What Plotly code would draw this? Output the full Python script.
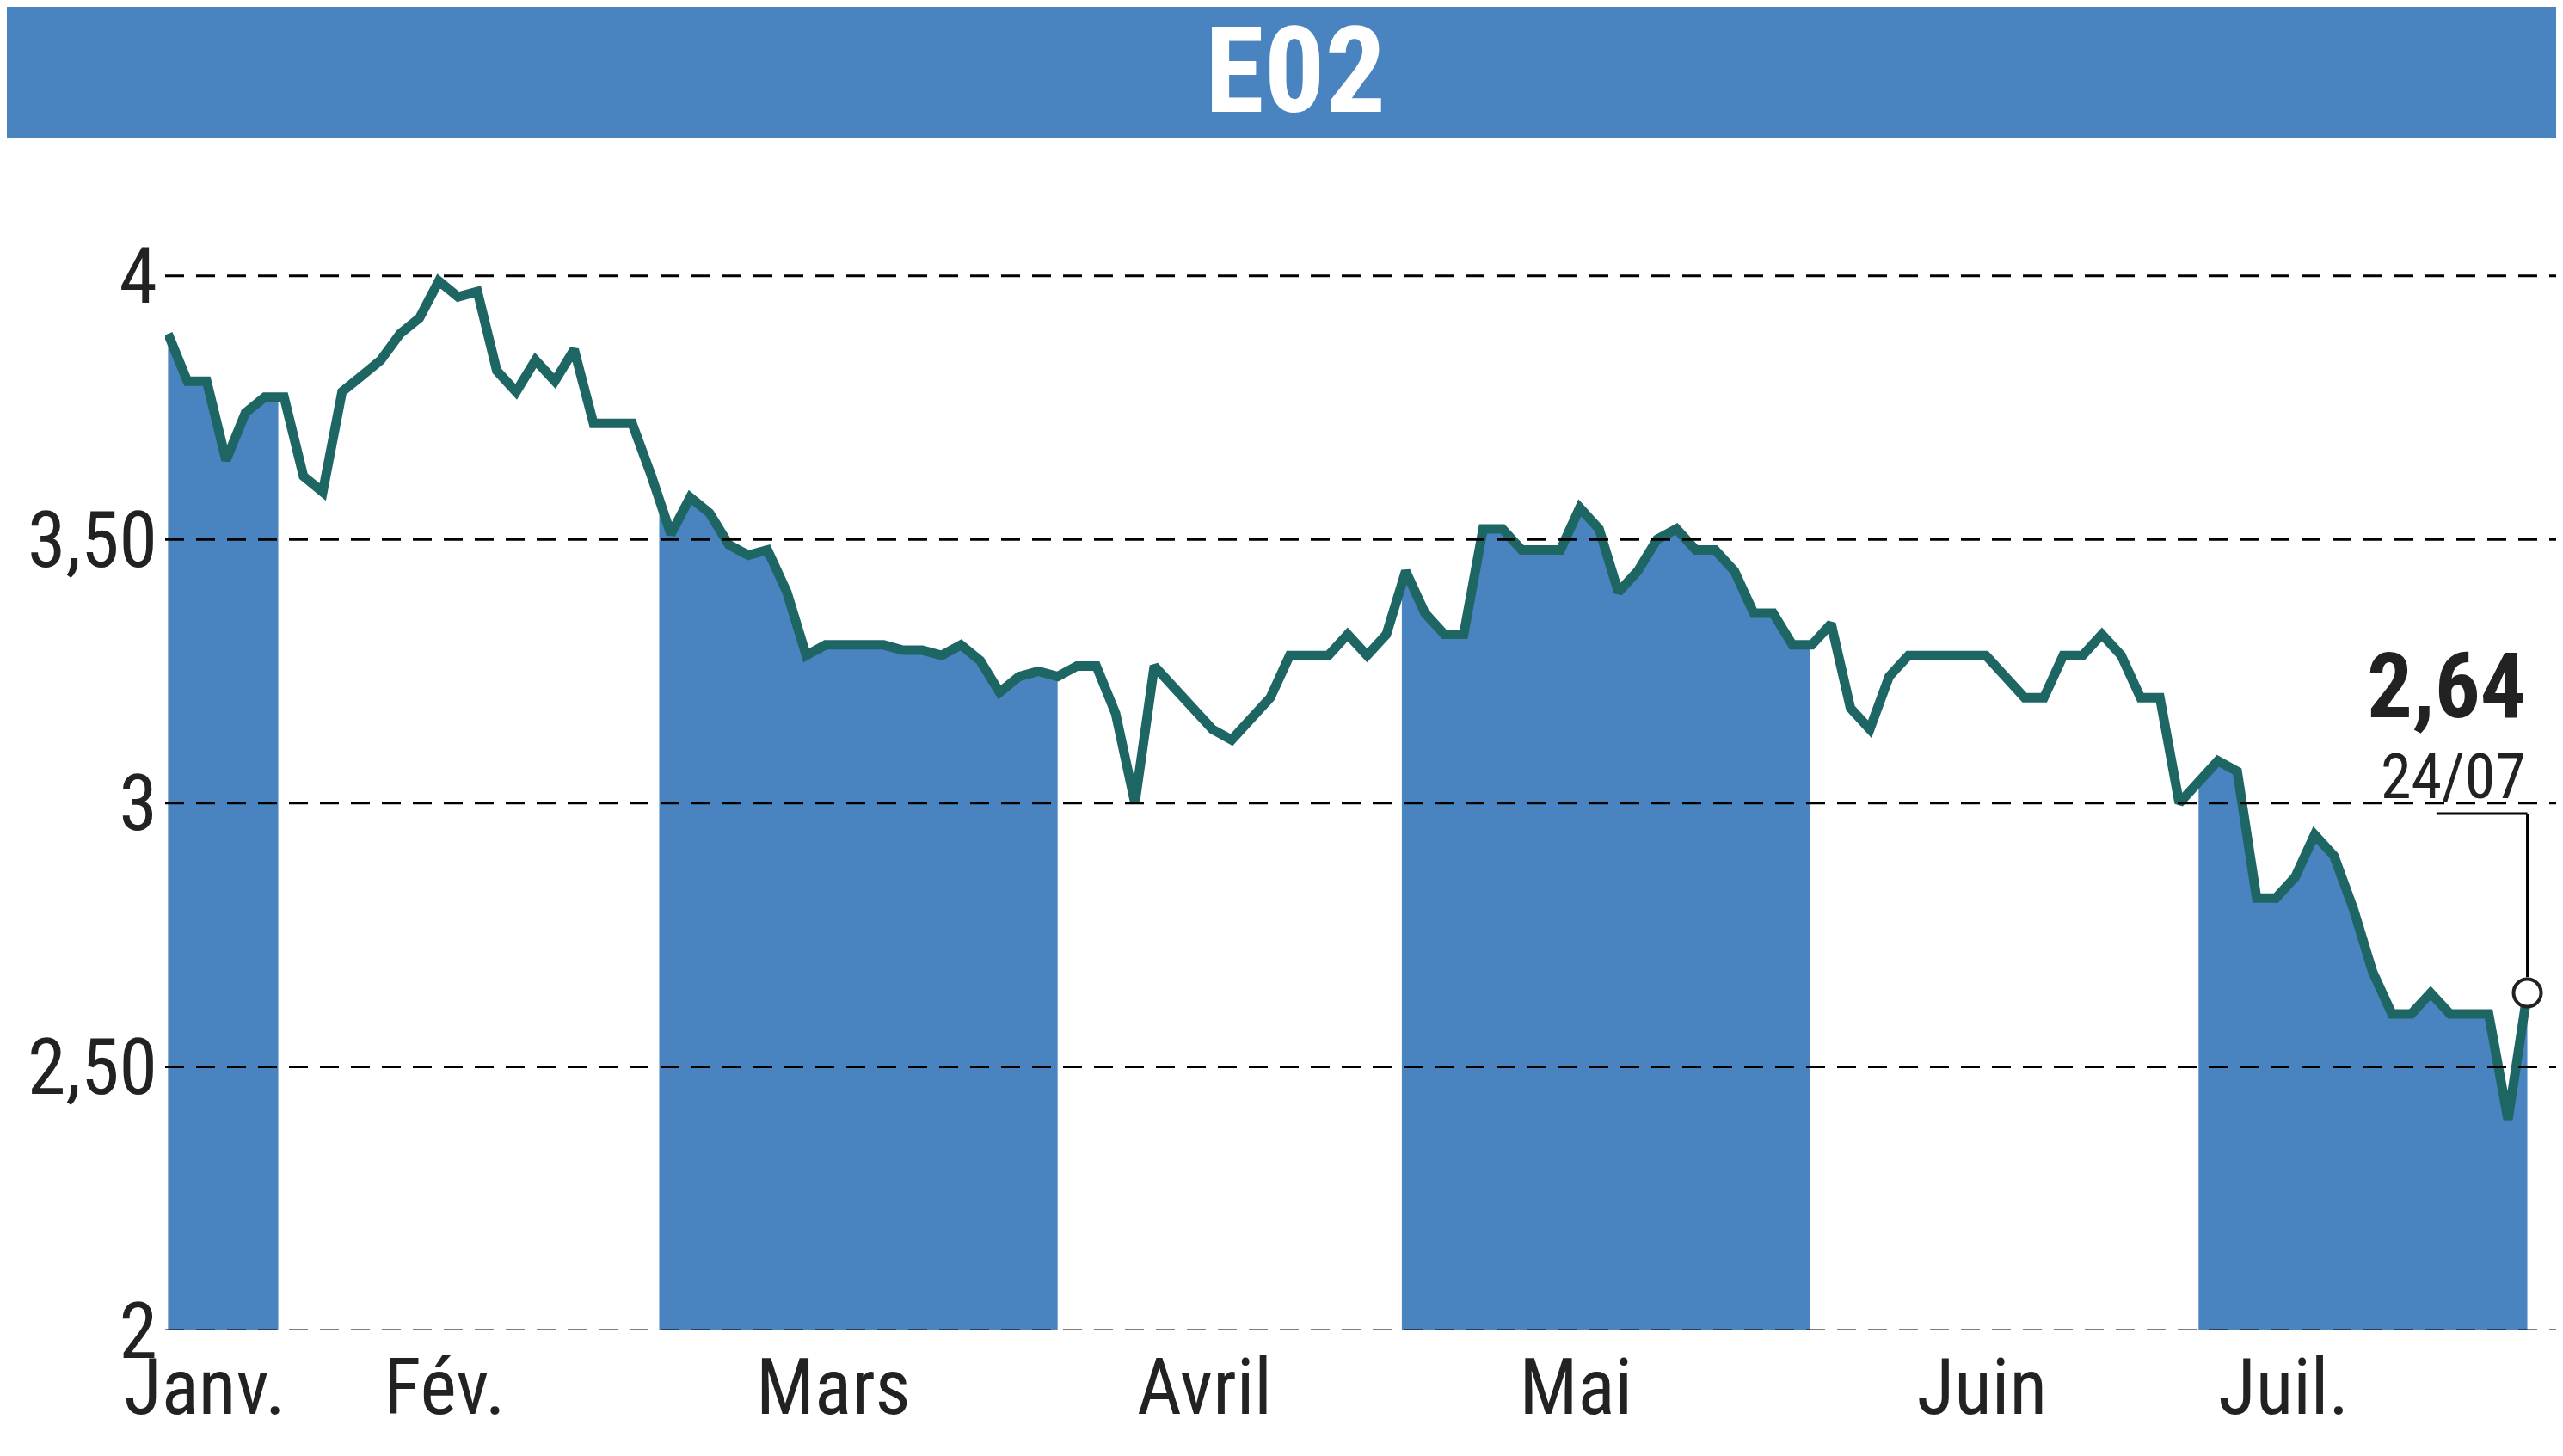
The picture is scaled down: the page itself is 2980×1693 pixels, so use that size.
import numpy as np
import plotly.graph_objects as go

title = "E02"
prices = [
  3.89, 3.80, 3.80, 3.65, 3.74, 3.77, 3.77, 3.62, 3.59, 3.78, 3.81, 3.84, 3.89, 3.92,
  3.99, 3.96, 3.97, 3.82, 3.78, 3.84, 3.80, 3.86, 3.72, 3.72, 3.72, 3.62, 3.51, 3.58,
  3.55, 3.49, 3.47, 3.48, 3.40, 3.28, 3.30, 3.30, 3.30, 3.30, 3.29, 3.29, 3.28, 3.30,
  3.27, 3.21, 3.24, 3.25, 3.24, 3.26, 3.26, 3.17, 3.00, 3.26, 3.22, 3.18, 3.14, 3.12,
  3.16, 3.20, 3.28, 3.28, 3.28, 3.32, 3.28, 3.32, 3.44, 3.36, 3.32, 3.32, 3.52, 3.52,
  3.48, 3.48, 3.48, 3.56, 3.52, 3.40, 3.44, 3.50, 3.52, 3.48, 3.48, 3.44, 3.36, 3.36,
  3.30, 3.30, 3.34, 3.18, 3.14, 3.24, 3.28, 3.28, 3.28, 3.28, 3.28, 3.24, 3.20, 3.20,
  3.28, 3.28, 3.32, 3.28, 3.20, 3.20, 3.00, 3.04, 3.08, 3.06, 2.82, 2.82, 2.86, 2.94,
  2.90, 2.80, 2.68, 2.60, 2.60, 2.64, 2.60, 2.60, 2.60, 2.40, 2.64,
]
# month boundaries, in trading-day index units
months = ["Janv.", "Fév.", "Mars", "Avril", "Mai", "Juin", "Juil."]
month_starts = [0, 5.7, 25.4, 46.0, 63.8, 84.9, 105.0]
month_label_pos = [1.9, 14.3, 34.4, 53.6, 72.8, 93.8, 109.4]
shaded = ["Janv.", "Mars", "Mai", "Juil."]
last_label = "2,64"
last_date = "24/07"

x = np.arange(len(prices))
end = x[-1]
blue = "#4a84c0"
line_col = "#1e6664"
font = "Liberation Sans Narrow, Roboto Condensed, DejaVu Sans Condensed, Liberation Sans"

fig = go.Figure()

edges = month_starts + [end]
for i, m in enumerate(months):
  if m not in shaded:
    continue
  a, b = edges[i], edges[i + 1]
  xs = [a] + [v for v in x if a < v < b] + [b]
  ys = list(np.interp(xs, x, prices))
  fig.add_trace(go.Scatter(
    x=[a] + xs + [b], y=[2] + ys + [2],
    fill="toself", fillcolor=blue, line=dict(width=0),
    mode="lines", hoverinfo="skip", showlegend=False,
  ))

for v in [2, 2.5, 3, 3.5, 4]:
  fig.add_shape(type="line", xref="paper", x0=0, x1=1, yref="y", y0=v, y1=v,
                line=dict(color="black", width=3, dash="22px,14px"))

fig.add_trace(go.Scatter(
  x=x, y=prices, mode="lines", line=dict(color=line_col, width=11),
  showlegend=False,
))

# leader line for last value
fig.add_shape(type="line", x0=end - 4.7, x1=end, y0=2.98, y1=2.98,
              line=dict(color="black", width=3))
fig.add_shape(type="line", x0=end, x1=end, y0=2.98, y1=prices[-1] + 0.03,
              line=dict(color="black", width=3))
fig.add_trace(go.Scatter(
  x=[end], y=[prices[-1]], mode="markers",
  marker=dict(size=32, color="white", line=dict(color="#222", width=4)),
  showlegend=False,
))
fig.add_annotation(x=end, y=3.22, text="<b>" + last_label + "</b>", showarrow=False,
                   xanchor="right", yanchor="middle", font=dict(size=105, color="#222", family=font))
fig.add_annotation(x=end, y=3.05, text=last_date, showarrow=False,
                   xanchor="right", yanchor="middle", font=dict(size=72, color="#222", family=font))

# title bar
fig.add_shape(type="rect", xref="paper", yref="paper", x0=-0.1, x1=1.1, y0=1.028, y1=1.2,
              fillcolor=blue, line=dict(width=0), layer="below")
fig.add_annotation(xref="paper", yref="paper", x=0.47, y=1.086, yanchor="middle",
                   text="<b>" + title + "</b>",
                   showarrow=False, font=dict(size=140, color="white", family=font))

fig.update_layout(
  width=2980, height=1693,
  paper_bgcolor="white", plot_bgcolor="white",
  margin=dict(l=184, r=0, t=190, b=154),
  font=dict(family=font, color="#222"),
)
fig.update_xaxes(range=[-0.15, end + 2.2], showgrid=False, zeroline=False,
                 tickvals=month_label_pos, ticktext=months, ticks="",
                 tickfont=dict(size=90), ticklabelstandoff=6)
fig.update_yaxes(range=[2, 4.2], showgrid=False, zeroline=False,
                 tickvals=[2, 2.5, 3, 3.5, 4], ticktext=["2", "2,50", "3", "3,50", "4"],
                 tickfont=dict(size=90), ticks="", ticklabelstandoff=8)

fig.write_html("out.html")
